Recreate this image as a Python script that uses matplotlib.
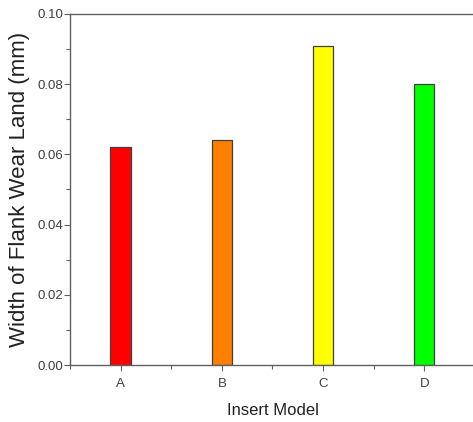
import matplotlib
matplotlib.use("Agg")
import matplotlib.pyplot as plt
from matplotlib.ticker import MultipleLocator

# values
models = ["A", "B", "C", "D"]
wear = [0.062, 0.064, 0.0908, 0.0801]
colors = ["#ff0000", "#ff8000", "#ffff00", "#00ff00"]

plt.rcParams['font.family'] = ['Liberation Sans', 'DejaVu Sans']

fig = plt.figure(figsize=(4.73, 4.22), dpi=100)
ax = fig.add_axes([0.148, 0.135, 0.856, 0.832])

pos = range(1, len(models) + 1)
ax.bar(pos, wear, width=0.2, color=colors, edgecolor="#404040", linewidth=0.9)

ax.set_xlim(0.5, 4.5)
ax.set_ylim(0, 0.10)
ax.set_xticks(list(pos))
ax.set_xticklabels(models)
ax.xaxis.set_minor_locator(MultipleLocator(1, offset=0.5))
ax.yaxis.set_major_locator(MultipleLocator(0.02))
ax.yaxis.set_minor_locator(MultipleLocator(0.01))
ax.yaxis.set_major_formatter(plt.FormatStrFormatter("%.2f"))

spine_col = "#606060"
for s in ["left", "bottom", "top"]:
    ax.spines[s].set_color(spine_col)
    ax.spines[s].set_linewidth(1.0)
ax.spines["right"].set_visible(False)

ax.tick_params(which="major", direction="out", length=4, width=0.8,
               color=spine_col, labelsize=9.5, labelcolor="#404040")
ax.tick_params(which="minor", direction="out", length=3, width=0.8,
               color=spine_col)
ax.tick_params(axis="x", pad=5)
ax.tick_params(axis="y", pad=1)

ax.set_xlabel("Insert Model", fontsize=12, color="#222222", labelpad=10)
ax.set_ylabel("Width of Flank Wear Land (mm)", fontsize=16, color="#222222",
              labelpad=5)

fig.savefig("out.png", dpi=100)
